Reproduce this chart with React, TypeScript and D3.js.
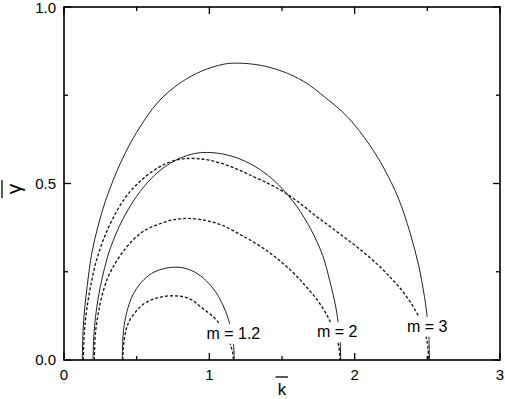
import React from 'react';
import * as d3 from 'd3';

// curve points: k (x) and gamma (y)
const solidM3K = [0.126, 0.13, 0.14, 0.16, 0.19, 0.24, 0.3, 0.4, 0.5, 0.65, 0.8, 0.95, 1.1, 1.19, 1.35, 1.5, 1.65, 1.8, 1.95, 2.1, 2.2, 2.3, 2.38, 2.44, 2.48, 2.5, 2.51, 2.515];
const solidM3G = [0, 0.073, 0.136, 0.211, 0.3, 0.388, 0.468, 0.568, 0.645, 0.732, 0.785, 0.819, 0.838, 0.841, 0.835, 0.818, 0.789, 0.743, 0.689, 0.611, 0.544, 0.459, 0.362, 0.268, 0.18, 0.118, 0.07, 0];

const dashM3K = [0.133, 0.136, 0.143, 0.158, 0.185, 0.22, 0.27, 0.34, 0.42, 0.5, 0.6, 0.7, 0.8, 0.867, 0.93, 1.0, 1.1, 1.2, 1.28, 1.4, 1.509, 1.62, 1.739, 1.85, 1.96, 2.071, 2.174, 2.25, 2.312, 2.38, 2.427, 2.46, 2.49, 2.503, 2.51];
const dashM3G = [0, 0.052, 0.094, 0.148, 0.213, 0.277, 0.34, 0.404, 0.459, 0.497, 0.532, 0.556, 0.569, 0.571, 0.57, 0.566, 0.555, 0.539, 0.524, 0.501, 0.477, 0.445, 0.406, 0.372, 0.338, 0.302, 0.264, 0.232, 0.204, 0.166, 0.134, 0.106, 0.068, 0.04, 0];

const solidM2K = [0.2, 0.203, 0.21, 0.225, 0.25, 0.28, 0.32, 0.4, 0.5, 0.6, 0.7, 0.8, 0.9, 0.98, 1.1, 1.2, 1.3, 1.4, 1.5, 1.6, 1.7, 1.78, 1.83, 1.87, 1.89, 1.9, 1.904];
const solidM2G = [0, 0.052, 0.094, 0.148, 0.208, 0.262, 0.318, 0.395, 0.464, 0.514, 0.549, 0.572, 0.585, 0.588, 0.583, 0.571, 0.552, 0.524, 0.486, 0.436, 0.369, 0.296, 0.222, 0.15, 0.095, 0.055, 0];

const dashM2K = [0.209, 0.212, 0.22, 0.235, 0.26, 0.3, 0.35, 0.408, 0.48, 0.56, 0.66, 0.75, 0.833, 0.92, 1.0, 1.1, 1.2, 1.28, 1.395, 1.48, 1.555, 1.62, 1.67, 1.73, 1.784, 1.83, 1.865, 1.89, 1.9];
const dashM2G = [0, 0.05, 0.09, 0.13, 0.18, 0.232, 0.272, 0.308, 0.342, 0.368, 0.386, 0.397, 0.401, 0.399, 0.393, 0.38, 0.358, 0.34, 0.31, 0.283, 0.256, 0.229, 0.206, 0.177, 0.145, 0.11, 0.075, 0.04, 0];

const solidM12K = [0.401, 0.404, 0.41, 0.42, 0.435, 0.46, 0.5, 0.55, 0.62, 0.7, 0.76, 0.82, 0.9, 0.98, 1.04, 1.09, 1.13, 1.155, 1.167, 1.172];
const solidM12G = [0, 0.05, 0.085, 0.113, 0.14, 0.172, 0.203, 0.228, 0.249, 0.26, 0.263, 0.261, 0.249, 0.224, 0.195, 0.159, 0.117, 0.076, 0.041, 0];

const dashM12K = [0.405, 0.408, 0.415, 0.43, 0.455, 0.5, 0.546, 0.6, 0.67, 0.75, 0.82, 0.88, 0.936, 0.99, 1.04, 1.08, 1.11, 1.135, 1.152, 1.162, 1.165];
const dashM12G = [0, 0.035, 0.06, 0.09, 0.115, 0.14, 0.158, 0.17, 0.179, 0.182, 0.179, 0.17, 0.152, 0.135, 0.117, 0.097, 0.077, 0.055, 0.035, 0.018, 0];

const curveLabels = ['m = 1.2', 'm = 2', 'm = 3'];
const labelK = [0.98, 1.74, 2.36];
const labelG = [0.06, 0.065, 0.08];

const xMajor = [0, 1, 2, 3];
const xMinor = [0.5, 1.5, 2.5];
const yMajor = [0, 0.5, 1.0];
const yMinor = [0.25, 0.75];

const W = 505;
const H = 399;
const left = 64, right = 500, top = 7, bottom = 360;

const App = () => {
    const x = d3.scaleLinear().domain([0, 3]).range([left, right]);
    const y = d3.scaleLinear().domain([0, 1]).range([bottom, top]);

    const line = d3.line<[number, number]>()
        .x(d => x(d[0]))
        .y(d => y(d[1]))
        .curve(d3.curveCatmullRom.alpha(0.5));

    const pts = (ks: number[], gs: number[]) => ks.map((k, i) => [k, gs[i]] as [number, number]);

    const solids = [pts(solidM3K, solidM3G), pts(solidM2K, solidM2G), pts(solidM12K, solidM12G)];
    const dashes = [pts(dashM3K, dashM3G), pts(dashM2K, dashM2G), pts(dashM12K, dashM12G)];

    const font = 'Arial, "Liberation Sans", sans-serif';

    return (
        <svg width={W} height={H} style={{ position: 'absolute', left: 0, top: 0, background: '#fff' }}>
            {solids.map((d, i) => (
                <path key={'s' + i} d={line(d) || ''} fill="none" stroke="#222" strokeWidth={1} />
            ))}
            {dashes.map((d, i) => (
                <path key={'d' + i} d={line(d) || ''} fill="none" stroke="#111" strokeWidth={1.3} strokeDasharray="3,2" />
            ))}

            {curveLabels.map((t, i) => (
                <g key={t} fontFamily={font} fontSize={16}>
                    <rect x={x(labelK[i]) - 3} y={y(labelG[i]) - 15} width={t.length > 5 ? 60 : 44} height={20} fill="#fff" />
                    <text x={x(labelK[i])} y={y(labelG[i])} fill="#000">{t}</text>
                </g>
            ))}

            {/* frame */}
            <rect x={left} y={top} width={right - left} height={bottom - top} fill="none" stroke="#000" strokeWidth={1.6} />

            {/* ticks */}
            {xMajor.map(v => (
                <g key={'xM' + v} stroke="#000" strokeWidth={1.3}>
                    <line x1={x(v)} x2={x(v)} y1={bottom} y2={bottom - 7} />
                    <line x1={x(v)} x2={x(v)} y1={top} y2={top + 7} />
                </g>
            ))}
            {xMinor.map(v => (
                <g key={'xm' + v} stroke="#000" strokeWidth={1.3}>
                    <line x1={x(v)} x2={x(v)} y1={bottom} y2={bottom - 4} />
                    <line x1={x(v)} x2={x(v)} y1={top} y2={top + 4} />
                </g>
            ))}
            {yMajor.map(v => (
                <g key={'yM' + v} stroke="#000" strokeWidth={1.3}>
                    <line x1={left} x2={left + 7} y1={y(v)} y2={y(v)} />
                    <line x1={right} x2={right - 7} y1={y(v)} y2={y(v)} />
                </g>
            ))}
            {yMinor.map(v => (
                <g key={'ym' + v} stroke="#000" strokeWidth={1.3}>
                    <line x1={left} x2={left + 4} y1={y(v)} y2={y(v)} />
                    <line x1={right} x2={right - 4} y1={y(v)} y2={y(v)} />
                </g>
            ))}

            {/* tick labels */}
            {xMajor.map(v => (
                <text key={'xl' + v} x={x(v)} y={bottom + 20} textAnchor="middle" fontFamily={font} fontSize={15}>{v}</text>
            ))}
            {yMajor.map(v => (
                <text key={'yl' + v} x={left - 8} y={Math.max(y(v) + 5, 13)} textAnchor="end" fontFamily={font} fontSize={15}>{v.toFixed(1)}</text>
            ))}

            {/* axis titles */}
            <text x={282} y={395} textAnchor="middle" fontFamily={font} fontSize={17}>k</text>
            <line x1={275.5} x2={288} y1={377} y2={377} stroke="#000" strokeWidth={1.3} />
            <g transform="translate(21,189) rotate(-90)">
                <text x={0} y={0} textAnchor="middle" fontFamily={font} fontSize={21}>γ</text>
                <line x1={-9} x2={9} y1={-19} y2={-19} stroke="#000" strokeWidth={1.3} />
            </g>
        </svg>
    );
};

export default App;
